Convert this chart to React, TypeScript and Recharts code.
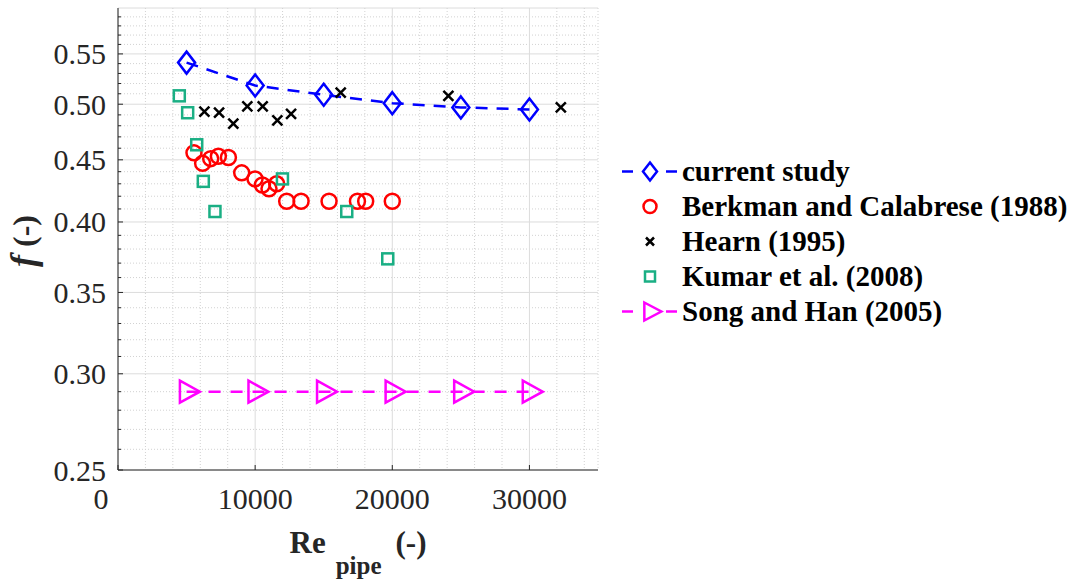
import React from "react";
import { ScatterChart, Scatter, XAxis, YAxis, CartesianGrid, Legend } from "recharts";

// friction factor vs pipe Reynolds number
const currentRe = [5000, 10000, 15000, 20000, 25000, 30000];
const currentF = [0.541, 0.518, 0.509, 0.501, 0.497, 0.495];

const berkmanRe = [5540, 6170, 6760, 7320, 8050, 9020, 9990, 10530, 11010, 11570, 12300, 13350, 15390, 17460, 18060, 20000];
const berkmanF = [0.456, 0.447, 0.451, 0.453, 0.452, 0.439, 0.434, 0.429, 0.426, 0.43, 0.416, 0.416, 0.416, 0.416, 0.416, 0.416];

const hearnRe = [6300, 7370, 8410, 9430, 10550, 11620, 12620, 16240, 24090, 32290];
const hearnF = [0.493, 0.492, 0.482, 0.498, 0.498, 0.485, 0.491, 0.511, 0.508, 0.497];

const kumarRe = [4470, 5080, 5740, 6220, 7070, 11990, 16680, 19670];
const kumarF = [0.508, 0.492, 0.463, 0.432, 0.408, 0.434, 0.408, 0.373];

const songRe = [5000, 10000, 15000, 20000, 25000, 30000];
const songF = [0.29, 0.29, 0.29, 0.29, 0.29, 0.29];

const xTicks = [0, 2000, 4000, 6000, 8000, 10000, 12000, 14000, 16000, 18000, 20000, 22000, 24000, 26000, 28000, 30000, 32000, 34000];
const yTicks = [
  0.25, 0.26, 0.27, 0.28, 0.29, 0.3, 0.31, 0.32, 0.33, 0.34, 0.35, 0.36, 0.37, 0.38, 0.39, 0.4, 0.41, 0.42,
  0.43, 0.44, 0.45, 0.46, 0.47, 0.48, 0.49, 0.5, 0.51, 0.52, 0.53, 0.54, 0.55, 0.56, 0.57, 0.58, 0.59,
];

const BLUE = "#0000ff";
const RED = "#ff0000";
const BLACK = "#000000";
const GREEN = "#1aaf84";
const MAGENTA = "#ff00ff";
const AXIS = "#262626";
const FONT = '"Liberation Serif", "Times New Roman", serif';

const zip = (xs: number[], ys: number[]) => xs.map((x, i) => ({ x, y: ys[i] }));

const isMajorX = (v: number) => v % 10000 === 0;
const isMajorY = (v: number) => Math.round(v * 100) % 5 === 0;

// ---- markers ----
const Diamond = ({ cx, cy, color, w = 8.5, h = 11 }: any) => (
  <path d={`M${cx},${cy - h}L${cx + w},${cy}L${cx},${cy + h}L${cx - w},${cy}Z`} fill="none" stroke={color} strokeWidth={2.5} />
);
const Circle = ({ cx, cy, r = 7.5 }: any) => <circle cx={cx} cy={cy} r={r} fill="none" stroke={RED} strokeWidth={2.5} />;
const Cross = ({ cx, cy, s = 5 }: any) => (
  <path d={`M${cx - s},${cy - s}L${cx + s},${cy + s}M${cx - s},${cy + s}L${cx + s},${cy - s}`} stroke={BLACK} strokeWidth={2.5} />
);
const Square = ({ cx, cy, s = 5.5 }: any) => (
  <rect x={cx - s} y={cy - s} width={2 * s} height={2 * s} fill="none" stroke={GREEN} strokeWidth={2.5} />
);
const Triangle = ({ cx, cy, w = 20, h = 11 }: any) => (
  <path d={`M${cx - w / 3},${cy - h}L${cx + (2 * w) / 3},${cy}L${cx - w / 3},${cy + h}Z`} fill="none" stroke={MAGENTA} strokeWidth={2.5} />
);

// ---- axis ticks (drawn inward, MATLAB style) ----
function BottomTick(props: any) {
  const { x, y, payload } = props;
  const v = payload.value;
  if (!isMajorX(v)) return <g />;
  const axisY = y - 18;
  return (
    <g>
      <line x1={x} x2={x} y1={axisY} y2={axisY - 5} stroke={AXIS} />
      <text x={v === 0 ? x - 17 : x} y={y} dy="0.71em" textAnchor="middle" fontSize={30} fontFamily={FONT} fill={AXIS}>
        {v}
      </text>
    </g>
  );
}

function TopTick(props: any) {
  const { x, y, payload } = props;
  if (!isMajorX(payload.value)) return <g />;
  return <line x1={x} x2={x} y1={y} y2={y + 5} stroke={AXIS} />;
}

function LeftTick(props: any) {
  const { x, y, payload } = props;
  const v = payload.value;
  const major = isMajorY(v);
  const axisX = x + 12;
  return (
    <g>
      <line x1={axisX} x2={axisX + (major ? 5 : 3)} y1={y} y2={y} stroke={AXIS} />
      {major && (
        <text x={x} y={y} dy="0.35em" textAnchor="end" fontSize={30} fontFamily={FONT} fill={AXIS}>
          {v.toFixed(2)}
        </text>
      )}
    </g>
  );
}

function RightTick(props: any) {
  const { x, y, payload } = props;
  const major = isMajorY(payload.value);
  return <line x1={x} x2={x - (major ? 5 : 3)} y1={y} y2={y} stroke={AXIS} />;
}

// ---- grid ----
function GridH(props: any) {
  const { x1, x2, y1, y2, index } = props;
  const major = index % 5 === 0;
  return (
    <line x1={x1} x2={x2} y1={y1} y2={y2} stroke={major ? "#dcdcdc" : "#d2d2d2"} strokeWidth={1} strokeDasharray={major ? undefined : "1 2"} />
  );
}

function GridV(props: any) {
  const { x1, x2, y1, y2, index } = props;
  const major = index % 5 === 0;
  return (
    <line x1={x1} x2={x2} y1={y1} y2={y2} stroke={major ? "#dcdcdc" : "#d2d2d2"} strokeWidth={1} strokeDasharray={major ? undefined : "1 2"} />
  );
}

// ---- titles ----
const XTitle = ({ viewBox }: any) => (
  <text x={viewBox.x + viewBox.width / 2} y={viewBox.y + 83} textAnchor="middle" fontFamily={FONT} fontWeight="bold" fontSize={31} fill={AXIS}>
    Re
    <tspan dx={10} dy={21} fontSize={25}>pipe</tspan>
    <tspan dx={14} dy={-21}>(-)</tspan>
  </text>
);

const YTitle = ({ viewBox }: any) => {
  const cx = viewBox.x + 17;
  const cy = viewBox.y + 233;
  return (
    <text x={cx} y={cy} transform={`rotate(-90 ${cx} ${cy})`} textAnchor="middle" fontFamily={FONT} fontWeight="bold" fontSize={32} fill={AXIS}>
      <tspan fontStyle="italic" fontSize={36}>f</tspan> (-)
    </text>
  );
};

// ---- legend ----
const legendItems = [
  { name: "current study", color: BLUE, icon: (c: number) => <Diamond cx={30} cy={c} color={BLUE} w={7} h={9} />, dashed: true },
  { name: "Berkman and Calabrese (1988)", color: RED, icon: (c: number) => <Circle cx={30} cy={c} r={6.5} />, dashed: false },
  { name: "Hearn (1995)", color: BLACK, icon: (c: number) => <Cross cx={30} cy={c} s={4} />, dashed: false },
  { name: "Kumar et al. (2008)", color: GREEN, icon: (c: number) => <Square cx={30} cy={c} s={5} />, dashed: false },
  { name: "Song and Han (2005)", color: MAGENTA, icon: (c: number) => <Triangle cx={30} cy={c} w={17} h={9} />, dashed: true },
];

const renderLegend = () => (
  <div style={{ fontFamily: FONT, fontWeight: "bold", fontSize: 29, color: "#000" }}>
    {legendItems.map((item) => (
      <div key={item.name} style={{ display: "flex", alignItems: "center", height: 35, whiteSpace: "nowrap" }}>
        <svg width={62} height={35} style={{ flex: "none" }}>
          {item.dashed && (
            <g stroke={item.color} strokeWidth={2.5}>
              <line x1={2} x2={13} y1={17.5} y2={17.5} />
              <line x1={46} x2={57} y1={17.5} y2={17.5} />
            </g>
          )}
          {item.icon(17.5)}
        </svg>
        <span>{item.name}</span>
      </div>
    ))}
  </div>
);

export default function App() {
  return (
    <div style={{ position: "absolute", left: 0, top: 0, width: 1076, height: 580, background: "#fff" }}>
      <ScatterChart width={1076} height={580} margin={{ top: 8, right: 478, bottom: 50, left: 18 }}>
        <CartesianGrid xAxisId="b" yAxisId="l" horizontal={GridH} vertical={GridV} />
        <XAxis
          xAxisId="b"
          type="number"
          dataKey="x"
          domain={[0, 35000]}
          ticks={xTicks}
          interval={0}
          allowDataOverflow
          height={60}
          tickSize={0}
          tickMargin={18}
          tickLine={false}
          axisLine={{ stroke: AXIS }}
          tick={<BottomTick />}
          label={{ content: XTitle }}
        />
        <XAxis
          xAxisId="t"
          orientation="top"
          type="number"
          dataKey="x"
          domain={[0, 35000]}
          ticks={xTicks}
          interval={0}
          allowDataOverflow
          height={0}
          tickSize={0}
          tickMargin={0}
          tickLine={false}
          axisLine={{ stroke: AXIS }}
          tick={<TopTick />}
        />
        <YAxis
          yAxisId="l"
          type="number"
          dataKey="y"
          scale="log"
          domain={[0.25, 0.6]}
          ticks={yTicks}
          interval={0}
          allowDataOverflow
          width={100}
          tickSize={0}
          tickMargin={12}
          tickLine={false}
          axisLine={{ stroke: AXIS }}
          tick={<LeftTick />}
          label={{ content: YTitle }}
        />
        <YAxis
          yAxisId="r"
          orientation="right"
          type="number"
          dataKey="y"
          scale="log"
          domain={[0.25, 0.6]}
          ticks={yTicks}
          interval={0}
          allowDataOverflow
          width={0}
          tickSize={0}
          tickMargin={0}
          tickLine={false}
          axisLine={{ stroke: AXIS }}
          tick={<RightTick />}
        />
        <Scatter
          xAxisId="b"
          yAxisId="l"
          name="current study"
          data={zip(currentRe, currentF)}
          line={{ stroke: BLUE, strokeWidth: 2.5, strokeDasharray: "12 9" }}
          lineType="joint"
          shape={(p: any) => <Diamond cx={p.cx} cy={p.cy} color={BLUE} />}
          isAnimationActive={false}
        />
        <Scatter
          xAxisId="b"
          yAxisId="l"
          name="Berkman and Calabrese (1988)"
          data={zip(berkmanRe, berkmanF)}
          shape={(p: any) => <Circle cx={p.cx} cy={p.cy} />}
          isAnimationActive={false}
        />
        <Scatter
          xAxisId="b"
          yAxisId="l"
          name="Hearn (1995)"
          data={zip(hearnRe, hearnF)}
          shape={(p: any) => <Cross cx={p.cx} cy={p.cy} />}
          isAnimationActive={false}
        />
        <Scatter
          xAxisId="b"
          yAxisId="l"
          name="Kumar et al. (2008)"
          data={zip(kumarRe, kumarF)}
          shape={(p: any) => <Square cx={p.cx} cy={p.cy} />}
          isAnimationActive={false}
        />
        <Scatter
          xAxisId="b"
          yAxisId="l"
          name="Song and Han (2005)"
          data={zip(songRe, songF)}
          line={{ stroke: MAGENTA, strokeWidth: 2.5, strokeDasharray: "12 10" }}
          lineType="joint"
          shape={(p: any) => <Triangle cx={p.cx} cy={p.cy} />}
          isAnimationActive={false}
        />
        <Legend
          layout="horizontal"
          verticalAlign="middle"
          align="center"
          content={renderLegend}
          wrapperStyle={{ left: 620, top: 154, width: 456, right: "auto", bottom: "auto" }}
        />
      </ScatterChart>
    </div>
  );
}
